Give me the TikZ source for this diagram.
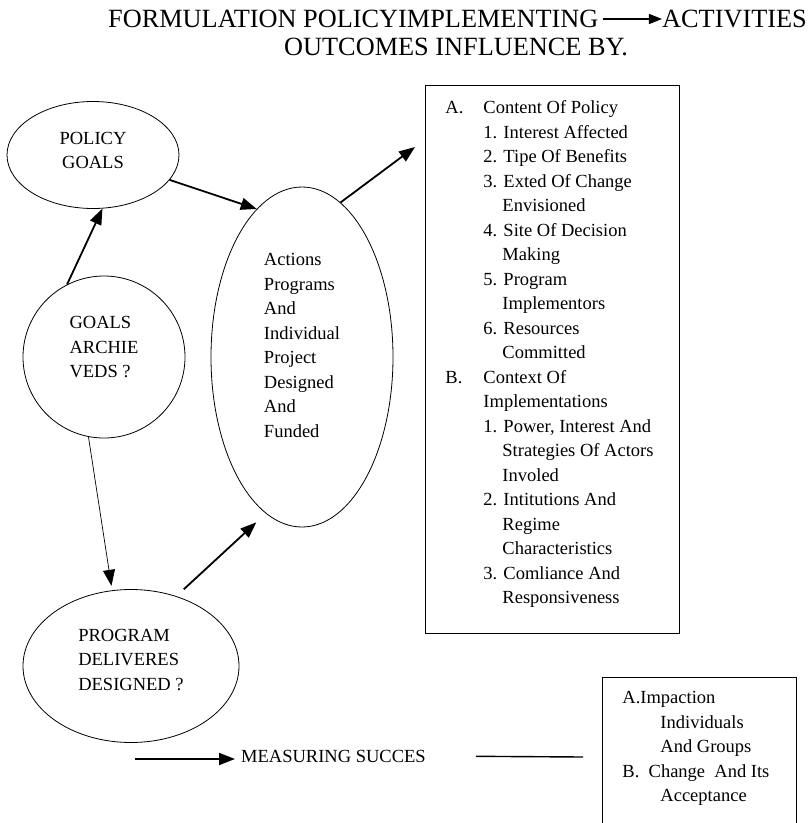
\documentclass[tikz,border=0pt]{standalone}
\usepackage{fontspec}
\setmainfont{Liberation Serif}
\usetikzlibrary{shapes.geometric,arrows.meta}

\begin{document}
\begin{tikzpicture}[x=1pt,y=1pt,
		txt/.style={font=\fontsize{18.5}{24.5}\selectfont},
		ttl/.style={font=\fontsize{26.3}{30}\selectfont,inner sep=0pt},
		oval/.style={ellipse,draw,line width=0.8pt,inner sep=0pt,txt},
		box/.style={draw,line width=0.9pt,txt,anchor=north west,inner xsep=20pt},
		arr/.style={line width=1.8pt,-{Triangle[length=16pt,width=12pt]}}]
		\useasboundingbox (0,0) rectangle (808,-823);
		\clip (0,0) rectangle (808,-823);
		%put the title on top
		\node[ttl,anchor=west] (form) at (108,-19) {FORMULATION POLICYIMPLEMENTING};
		\node[ttl,anchor=east] (activ) at (807,-19) {ACTIVITIES};
		\node[ttl,anchor=west] (outc) at (284,-47) {OUTCOMES INFLUENCE BY.};
		\draw[line width=1.2pt,-{Triangle[length=13pt,width=10pt]},shorten <=4pt] (form) -- (activ);
		%put the ellipses on the left
		\node[oval,minimum width=172pt,minimum height=107pt,align=center,text depth=9pt] (policy) at (93,-155) {POLICY\\GOALS};
		\node[oval,minimum width=162pt,minimum height=162pt,align=left,text depth=20pt] (goals) at (104,-357) {GOALS\\ARCHIE\\VEDS ?};
		\node[oval,minimum width=216pt,minimum height=153pt,align=left,text depth=13pt] (program) at (131,-666) {PROGRAM\\DELIVERES\\DESIGNED ?};
		%put the big ellipse on the center
		\node[oval,minimum width=182pt,minimum height=340pt,align=left,text depth=23pt] (actions) at (302,-357) {Actions\\Programs\\And\\Individual\\Project\\Designed\\And\\Funded};
		%put the boxes on the right
		\node[box,inner ysep=15.5pt] (content) at (425,-85) {\parbox[t][517pt][t]{214pt}{%
			\makebox[38pt][l]{A.}Content Of Policy\\
			\hspace*{38pt}1. Interest Affected\\
			\hspace*{38pt}2. Tipe Of Benefits\\
			\hspace*{38pt}3. Exted Of Change\\
			\hspace*{57pt}Envisioned\\
			\hspace*{38pt}4. Site Of Decision\\
			\hspace*{57pt}Making\\
			\hspace*{38pt}5. Program\\
			\hspace*{57pt}Implementors\\
			\hspace*{38pt}6. Resources\\
			\hspace*{57pt}Committed\\
			\makebox[38pt][l]{B.}Context Of\\
			\hspace*{38pt}Implementations\\
			\hspace*{38pt}1. Power, Interest And\\
			\hspace*{57pt}Strategies Of Actors\\
			\hspace*{57pt}Involed\\
			\hspace*{38pt}2. Intitutions And\\
			\hspace*{57pt}Regime\\
			\hspace*{57pt}Characteristics\\
			\hspace*{38pt}3. Comliance And\\
			\hspace*{57pt}Responsiveness}};
		\node[box,inner ysep=14pt] (impact) at (602,-677) {\parbox[t][160pt][t]{154pt}{%
			A.Impaction\\
			\hspace*{38pt}Individuals\\
			\hspace*{38pt}And Groups\\
			B.\ \ Change\ \ And Its\\
			\hspace*{38pt}Acceptance}};
		%put the measuring line at the bottom
		\node[txt,anchor=west,inner sep=0pt] (measure) at (241,-756) {MEASURING SUCCES};
		\coordinate (c1) at (415,-147);
		\coordinate (m0) at (135,-759);
		\coordinate (m1) at (583,-757);
		%connect them
		\draw[arr] (goals.117) -- (policy.280);
		\draw[arr] (policy.-18) -- (actions.107);
		\draw[arr] (actions.76) -- (c1);
		\draw[arr,shorten <=10pt,shorten >=13pt] (program.57) -- (actions.257);
		\draw[arr,line width=0.7pt,shorten >=4.5pt] (goals.259) -- (program.104);
		\draw[arr,shorten >=6pt] (m0) -- (measure.west |- m0);
		\draw[line width=1.4pt,shorten <=50pt] (measure.east) -- (m1);
\end{tikzpicture}
\end{document}
